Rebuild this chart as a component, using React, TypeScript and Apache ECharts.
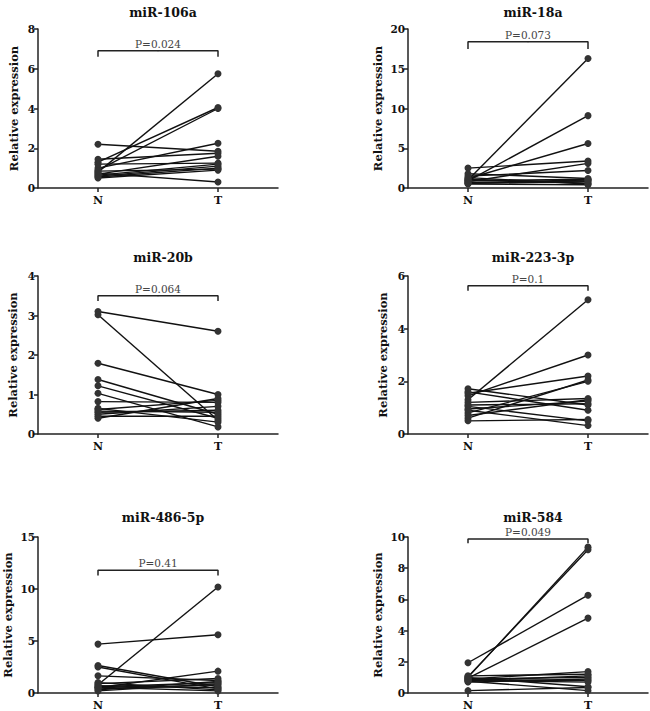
import React, { useEffect, useRef } from "react";
import * as echarts from "echarts";

const categories = ["N", "T"];
const titles = ["miR-106a", "miR-18a", "miR-20b", "miR-223-3p", "miR-486-5p", "miR-584"];
const pLabels = ["P=0.024", "P=0.073", "P=0.064", "P=0.1", "P=0.41", "P=0.049"];
const yMax = [8, 20, 4, 6, 15, 10];
const yInterval = [2, 5, 1, 2, 5, 2];
const bracketTop = [6.9, 18.4, 3.5, 5.63, 11.8, 9.87];
const bracketFoot = [6.6, 17.5, 3.37, 5.44, 11.3, 9.6];

const n106a = [0.8, 1.3, 0.9, 2.2, 1.0, 1.45, 0.7, 1.2, 0.6, 0.55, 0.85, 0.65, 0.75, 0.5];
const t106a = [5.75, 4.05, 4.0, 1.85, 2.25, 1.75, 1.6, 1.25, 1.1, 1.0, 0.95, 1.2, 0.3, 0.9];
const n18a = [1.0, 0.9, 1.2, 2.5, 0.8, 1.5, 1.8, 0.7, 0.6, 1.1, 0.5, 0.9, 1.3, 0.6];
const t18a = [16.3, 9.1, 5.6, 3.4, 3.1, 2.2, 1.2, 1.0, 0.8, 0.6, 0.4, 1.1, 0.5, 0.9];
const n20b = [3.1, 3.02, 1.79, 1.38, 1.22, 1.03, 0.82, 0.62, 0.55, 0.5, 0.45, 0.65, 0.4, 0.58];
const t20b = [2.6, 0.35, 1.0, 0.5, 0.4, 0.18, 0.8, 0.85, 0.6, 0.7, 0.45, 0.3, 0.9, 0.55];
const n223 = [1.3, 1.45, 1.55, 0.6, 0.8, 1.72, 1.6, 1.2, 0.95, 0.5, 0.9, 1.05, 0.7, 1.1];
const t223 = [5.1, 3.0, 2.2, 2.05, 2.0, 1.1, 0.9, 1.35, 1.25, 0.55, 0.32, 0.5, 1.3, 1.15];
const n486 = [0.8, 4.7, 2.65, 2.5, 1.65, 0.5, 0.9, 0.6, 0.4, 1.0, 0.3, 0.7, 0.2, 0.55];
const t486 = [10.2, 5.6, 0.6, 0.4, 1.2, 2.1, 1.4, 1.0, 0.8, 0.3, 1.1, 0.5, 0.9, 0.2];
const n584 = [1.94, 1.0, 1.05, 0.95, 0.9, 0.8, 0.7, 0.85, 1.0, 0.75, 0.15, 0.9, 0.8, 1.1];
const t584 = [6.27, 9.35, 9.18, 4.8, 1.37, 1.1, 0.9, 0.8, 0.4, 0.15, 0.35, 1.0, 0.7, 1.2];

const nValues = [n106a, n18a, n20b, n223, n486, n584];
const tValues = [t106a, t18a, t20b, t223, t486, t584];

const FONT = "DejaVu Serif";
const xPos = [1, 3];

const grids = [
  { left: 38, top: 29, width: 240, height: 159 },
  { left: 408, top: 29, width: 240, height: 159 },
  { left: 38, top: 276, width: 240, height: 158 },
  { left: 408, top: 276, width: 240, height: 158 },
  { left: 38, top: 537, width: 240, height: 158 },
  { left: 408, top: 537, width: 240, height: 158 },
];
const titleTops = [1, 1, 246, 246, 506, 506];
const nameGaps = [18, 24, 19, 19, 24, 24];

function buildOption() {
  const series: any[] = [];
  const xAxis: any[] = [];
  const yAxis: any[] = [];
  const title: any[] = [];
  grids.forEach((g, i) => {
    title.push({
      text: titles[i],
      left: g.left + g.width / 2,
      top: titleTops[i],
      textAlign: "center",
      textStyle: { fontFamily: FONT, fontWeight: "bold", fontSize: 12.5, color: "#111" },
    });
    xAxis.push({
      type: "value",
      gridIndex: i,
      min: 0,
      max: 4,
      interval: 1,
      splitLine: { show: false },
      axisLine: { lineStyle: { color: "#222", width: 1.5 } },
      axisTick: { show: true, customValues: xPos, length: 4, lineStyle: { color: "#222", width: 1.5 } },
      axisLabel: {
        customValues: xPos,
        formatter: (v: number) => (v === 1 ? categories[0] : v === 3 ? categories[1] : ""),
        fontFamily: FONT,
        fontWeight: "bold",
        fontSize: 11,
        color: "#111",
        margin: 7,
      },
    });
    yAxis.push({
      type: "value",
      gridIndex: i,
      min: 0,
      max: yMax[i],
      interval: yInterval[i],
      name: "Relative expression",
      nameLocation: "middle",
      nameGap: nameGaps[i],
      nameTextStyle: { fontFamily: FONT, fontWeight: "bold", fontSize: 11.5, color: "#111" },
      splitLine: { show: false },
      axisLine: { show: true, lineStyle: { color: "#222", width: 1.5 } },
      axisTick: { show: true, length: 4, lineStyle: { color: "#222", width: 1.5 } },
      axisLabel: { fontFamily: FONT, fontWeight: "bold", fontSize: 10.5, color: "#111", margin: 3 },
    });
    nValues[i].forEach((nv, k) => {
      series.push({
        type: "line",
        xAxisIndex: i,
        yAxisIndex: i,
        data: [
          [xPos[0], nv],
          [xPos[1], tValues[i][k]],
        ],
        symbol: "circle",
        symbolSize: 7,
        itemStyle: { color: "#333" },
        lineStyle: { color: "#111", width: 1.4 },
        silent: true,
      });
    });
    series.push({
      type: "line",
      xAxisIndex: i,
      yAxisIndex: i,
      data: [
        [xPos[0], bracketFoot[i]],
        [xPos[0], bracketTop[i]],
        [xPos[1], bracketTop[i]],
        [xPos[1], bracketFoot[i]],
      ],
      symbol: "none",
      lineStyle: { color: "#222", width: 1.5 },
      silent: true,
      markPoint: {
        silent: true,
        symbol: "rect",
        symbolSize: 1,
        itemStyle: { color: "#222" },
        data: [{ coord: [(xPos[0] + xPos[1]) / 2, bracketTop[i]] }],
        label: {
          show: true,
          position: "top",
          distance: 1,
          formatter: pLabels[i],
          fontFamily: FONT,
          fontSize: 10.5,
          color: "#444",
        },
      },
    });
  });
  return { animation: false, backgroundColor: "#fff", textStyle: { fontFamily: FONT }, title, grid: grids, xAxis, yAxis, series };
}

export default function App() {
  const ref = useRef<HTMLDivElement>(null);
  useEffect(() => {
    document.body.style.margin = "0";
    if (!ref.current) return;
    const chart = echarts.init(ref.current, null, { renderer: "svg" });
    chart.setOption(buildOption() as any);
    return () => chart.dispose();
  }, []);
  return <div ref={ref} style={{ width: 650, height: 711 }} />;
}
